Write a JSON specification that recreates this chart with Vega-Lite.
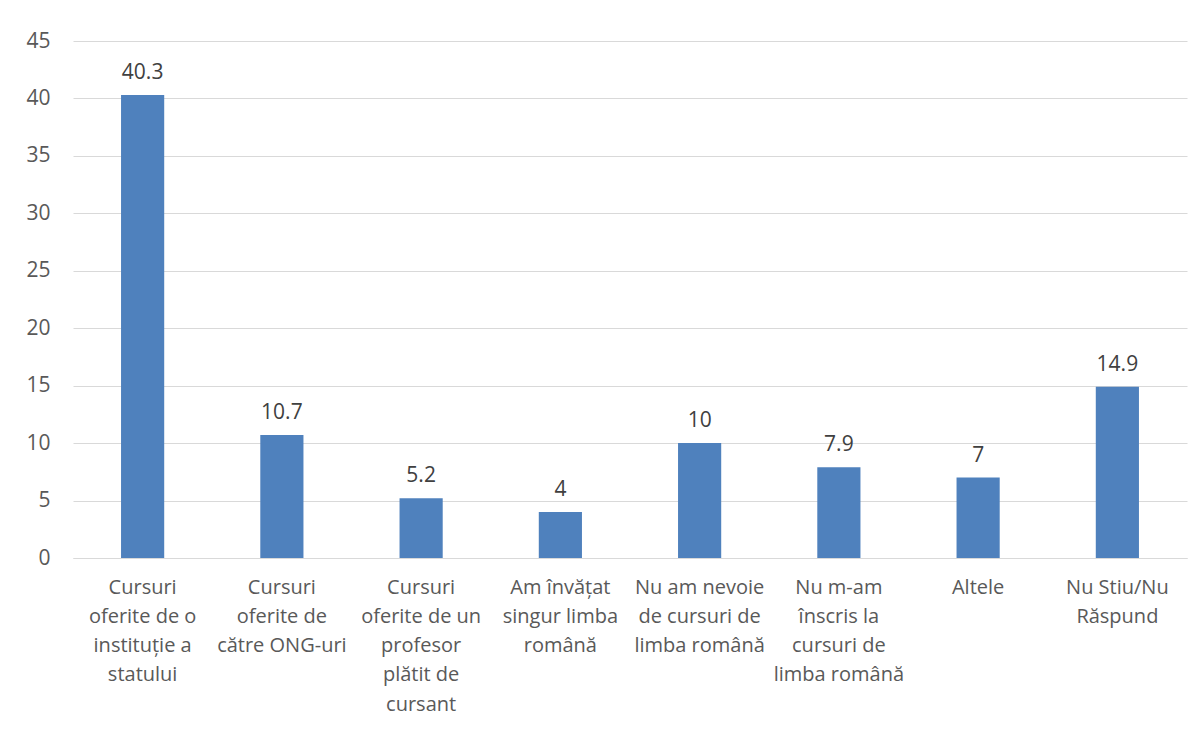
{
  "$schema": "https://vega.github.io/schema/vega-lite/v6.json",
  "width": 1114,
  "height": 517,
  "autosize": {"type": "none"},
  "padding": {"left": 73, "top": 41, "right": 14, "bottom": 174},
  "background": "white",
  "config": {
    "view": {"stroke": null},
    "font": "Open Sans"
  },
  "data": {
    "values": [
      {"label": "Cursuri\noferite de o\ninstituție a\nstatului", "value": 40.3},
      {"label": "Cursuri\noferite de\ncătre ONG-uri", "value": 10.7},
      {"label": "Cursuri\noferite de un\nprofesor\nplătit de\ncursant", "value": 5.2},
      {"label": "Am învățat\nsingur limba\nromână", "value": 4},
      {"label": "Nu am nevoie\nde cursuri de\nlimba română", "value": 10},
      {"label": "Nu m-am\nînscris la\ncursuri de\nlimba română", "value": 7.9},
      {"label": "Altele", "value": 7},
      {"label": "Nu Stiu/Nu\nRăspund", "value": 14.9}
    ]
  },
  "encoding": {
    "x": {
      "field": "label",
      "type": "nominal",
      "sort": null,
      "scale": {"paddingInner": 0.69, "paddingOuter": 0.345},
      "axis": {
        "title": null,
        "labelAngle": 0,
        "labelExpr": "split(datum.label, '\\n')",
        "labelFont": "Open Sans",
        "labelFontSize": 20,
        "labelColor": "#595959",
        "labelLineHeight": 29.3,
        "labelPadding": 19,
        "labelBaseline": "top",
        "ticks": false,
        "domainColor": "#D9D9D9",
        "domainWidth": 1,
        "labelLimit": 0
      }
    },
    "y": {
      "field": "value",
      "type": "quantitative",
      "scale": {"domain": [0, 45], "nice": false},
      "axis": {
        "title": null,
        "values": [0, 5, 10, 15, 20, 25, 30, 35, 40, 45],
        "domain": false,
        "ticks": false,
        "tickSize": 0,
        "labelPadding": 23,
        "labelFont": "Open Sans",
        "labelFontSize": 21,
        "labelColor": "#595959",
        "gridColor": "#D9D9D9",
        "gridWidth": 1
      }
    }
  },
  "layer": [
    {"mark": {"type": "bar", "color": "#4F81BD"}},
    {
      "mark": {"type": "text", "baseline": "alphabetic", "dy": -16, "fontSize": 21, "color": "#404040", "font": "Open Sans"},
      "encoding": {"text": {"field": "value", "type": "quantitative"}}
    }
  ]
}
